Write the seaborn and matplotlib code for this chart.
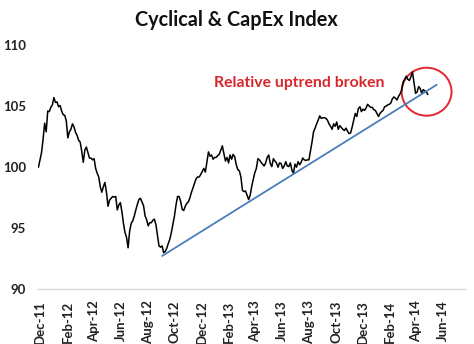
import matplotlib
matplotlib.use("Agg")
import matplotlib.pyplot as plt
import matplotlib.dates as mdates
from matplotlib.patches import Ellipse
import pandas as pd
import seaborn as sns

# Twice-weekly index level from late Nov 2011, rebased to 100
start_date = "2011-11-27"
index_values = [
    100.0, 100.6, 101.2, 102.3, 103.6, 102.9, 104.6, 104.55, 104.9, 105.1,
    105.7, 105.3, 105.35, 104.95, 105.05, 104.6, 104.3, 104.25, 103.8, 102.4,
    102.9, 103.1, 103.55, 103.3, 102.85, 102.6, 102.2, 102.05, 101.3, 100.4,
    101.4, 101.65, 101.2, 100.75, 100.75, 100.6, 100.7, 99.9, 99.5, 99.2,
    98.4, 97.95, 98.4, 98.75, 97.95, 96.8, 97.3, 97.45, 97.6, 97.55,
    97.6, 96.5, 96.9, 97.1, 96.35, 95.4, 94.65, 94.25, 93.4, 94.75,
    95.4, 95.6, 96.0, 96.5, 96.95, 97.35, 97.45, 97.15, 96.85, 96.0,
    95.7, 95.2, 95.45, 95.45, 95.65, 95.75, 95.3, 94.4, 93.55, 93.45,
    93.55, 93.0, 93.1, 93.35, 93.75, 94.1, 94.65, 95.35, 96.0, 96.9,
    97.6, 97.6, 97.2, 96.55, 96.45, 96.8, 97.05, 97.15, 97.5, 97.95,
    98.3, 98.7, 99.05, 99.2, 99.2, 99.4, 99.65, 99.9, 99.6, 100.4,
    101.25, 100.9, 101.0, 100.65, 100.8, 100.8, 100.95, 101.05, 101.4, 101.75,
    101.1, 100.5, 100.8, 100.35, 101.0, 100.65, 101.05, 100.85, 100.2, 99.8,
    99.7, 99.2, 98.1, 98.0, 98.05, 97.7, 97.35, 97.7, 98.45, 99.0,
    99.55, 99.9, 100.7, 100.6, 100.4, 100.25, 100.1, 100.35, 100.8, 101.0,
    100.3, 100.05, 100.7, 100.5, 100.35, 100.0, 100.35, 100.3, 99.9, 100.1,
    100.45, 100.1, 100.05, 100.35, 99.75, 99.5, 100.25, 100.0, 100.45, 100.2,
    100.4, 100.75, 100.6, 100.55, 100.6, 100.6, 101.3, 102.05, 102.9, 103.2,
    103.55, 103.85, 104.2, 104.0, 104.05, 104.05, 104.0, 103.85, 103.55, 103.35,
    103.1, 103.55, 103.35, 103.7, 103.1, 103.4, 103.25, 103.1, 103.0, 103.2,
    102.95, 102.75, 102.8, 103.3, 103.85, 104.4, 104.15, 104.8, 104.95, 104.55,
    104.75, 104.65, 104.85, 105.15, 105.0, 104.9, 104.9, 104.7, 104.65, 104.4,
    104.15, 104.4, 104.55, 104.65, 104.95, 105.0, 105.1, 105.15, 105.25, 105.6,
    105.75, 105.65, 105.5, 105.8, 106.0, 106.3, 107.0, 107.2, 107.45, 107.2,
    107.1, 107.4, 107.8, 106.9, 106.05, 106.15, 106.6, 106.45, 106.05, 106.35,
    106.25, 106.15, 105.95,
]

# Support trend line drawn from the Sept 2012 low
trend_dates = ["2012-09-02", "2014-05-17"]
trend_values = [92.73, 106.75]

title = "Cyclical & CapEx Index"
note = "Relative uptrend broken"
y_ticks = [90, 95, 100, 105, 110]

df = pd.DataFrame({
    "date": pd.date_range(start_date, periods=len(index_values), freq="84h"),
    "value": index_values,
})
trend = pd.DataFrame({"date": pd.to_datetime(trend_dates), "value": trend_values})

sns.set_theme(style="white")
plt.rcParams["font.family"] = ["Lato", "DejaVu Sans"]

fig = plt.figure(figsize=(4.74, 3.44), dpi=100)
ax = fig.add_axes([0.0802, 0.159, 0.981 - 0.0802, 0.869 - 0.159])

sns.lineplot(data=df, x="date", y="value", ax=ax, color="black", linewidth=1.1)
sns.lineplot(data=trend, x="date", y="value", ax=ax, color="#4a7ebb", linewidth=1.3)

ax.set_xlim(pd.Timestamp("2011-11-26"), pd.Timestamp("2014-07-20"))
ax.set_ylim(90, 110)
ax.set_yticks(y_ticks)
ax.xaxis.set_major_locator(mdates.MonthLocator(bymonth=(12, 2, 4, 6, 8, 10), bymonthday=1))
ax.xaxis.set_major_formatter(mdates.DateFormatter("%b-%y"))
ax.tick_params(axis="both", length=0, labelsize=9.5, colors="#222222")
ax.tick_params(axis="x", pad=8)
ax.tick_params(axis="y", pad=8.5)
for lab in ax.get_xticklabels():
    lab.set_rotation(90)
    lab.set_fontweight("bold")
for lab in ax.get_yticklabels():
    lab.set_fontweight("bold")
ax.set_xlabel("")
ax.set_ylabel("")

for side in ["top", "right", "left"]:
    ax.spines[side].set_visible(False)
ax.spines["bottom"].set_color("#d9d9d9")
ax.spines["bottom"].set_linewidth(1.0)

# Annotation and the circle around the break
ax.text(pd.Timestamp("2014-01-18"), 106.87, note, color="#d9262b", fontsize=11.3,
        fontweight="bold", ha="right", va="center")
circle_center = mdates.date2num(pd.Timestamp("2014-04-24"))
ax.add_patch(Ellipse((circle_center, 106.18), width=113, height=3.93,
                     fill=False, edgecolor="#e0272e", linewidth=1.4))

fig.text(0.498, 0.942, title, ha="center", va="center", fontsize=14.3,
         fontweight="bold", color="#111111")

fig.savefig("out.png", dpi=100, facecolor="white")
